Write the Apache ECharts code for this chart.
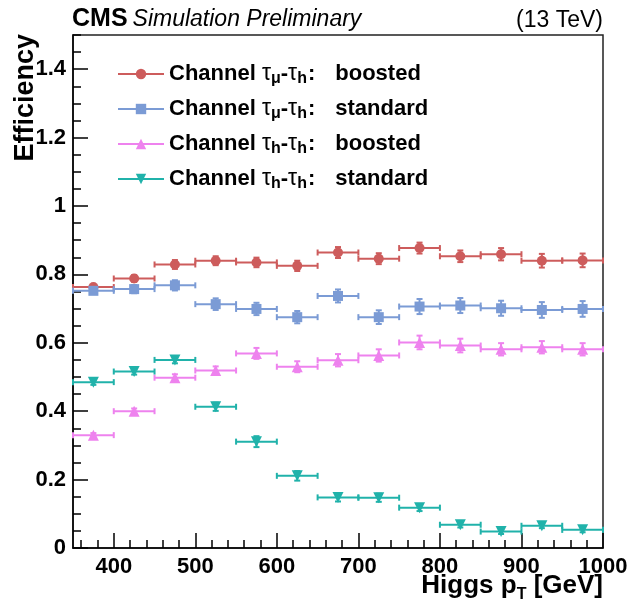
<!DOCTYPE html>
<html>
<head>
<meta charset="utf-8">
<script src="https://cdn.jsdelivr.net/npm/echarts@6/dist/echarts.min.js"></script>
<style>
html, body { margin: 0; padding: 0; background: #fff; }
#chart { width: 628px; height: 608px; }
</style>
</head>
<body>
<div id="chart"></div>
<script>
//---------------------------Data---------------------------
//bins in Higgs pT [GeV]
let binCenters = [375, 425, 475, 525, 575, 625, 675, 725, 775, 825, 875, 925, 975];
let binHalfWidth = 25;

//efficiencies + vertical errors
let effMuBoosted = [0.763, 0.788, 0.829, 0.840, 0.835, 0.825, 0.864, 0.846, 0.877, 0.853, 0.859, 0.840, 0.841];
let errMuBoosted = [0.006, 0.010, 0.013, 0.013, 0.014, 0.015, 0.016, 0.016, 0.016, 0.017, 0.018, 0.020, 0.020];
let effMuStandard = [0.752, 0.757, 0.768, 0.713, 0.699, 0.675, 0.737, 0.675, 0.706, 0.709, 0.701, 0.696, 0.699];
let errMuStandard = [0.008, 0.012, 0.015, 0.017, 0.018, 0.018, 0.019, 0.020, 0.022, 0.022, 0.022, 0.023, 0.023];
let effHBoosted = [0.330, 0.400, 0.498, 0.519, 0.569, 0.530, 0.549, 0.563, 0.601, 0.592, 0.581, 0.587, 0.581];
let errHBoosted = [0.006, 0.008, 0.010, 0.012, 0.016, 0.016, 0.018, 0.018, 0.020, 0.020, 0.018, 0.018, 0.018];
let effHStandard = [0.485, 0.516, 0.550, 0.413, 0.311, 0.211, 0.148, 0.147, 0.118, 0.068, 0.048, 0.065, 0.053];
let errHStandard = [0.008, 0.009, 0.010, 0.012, 0.016, 0.014, 0.012, 0.012, 0.010, 0.008, 0.007, 0.007, 0.007];

//axis ticks
let xMajorTicks = [400, 500, 600, 700, 800, 900, 1000];
let xMinorTicks = [360, 380, 420, 440, 460, 480, 520, 540, 560, 580, 620, 640, 660, 680,
    720, 740, 760, 780, 820, 840, 860, 880, 920, 940, 960, 980];
let yMajorTicks = [0, 0.2, 0.4, 0.6, 0.8, 1.0, 1.2, 1.4];
let yMinorTicks = [0.05, 0.1, 0.15, 0.25, 0.3, 0.35, 0.45, 0.5, 0.55, 0.65, 0.7, 0.75, 0.85, 0.9, 0.95,
    1.05, 1.1, 1.15, 1.25, 1.3, 1.35, 1.45, 1.5];

//---------------------------UI---------------------------
let chart = echarts.init(document.getElementById('chart'));
let font = 'Liberation Sans';

let channels = [
    {name: 'mu_boosted', eff: effMuBoosted, err: errMuBoosted, color: '#cd5c5c', symbol: 'circle', size: 10,
        label: 'Channel {tau|τ}{sub|μ}-{tau|τ}{sub|h}{col|:}boosted'},
    {name: 'mu_standard', eff: effMuStandard, err: errMuStandard, color: '#7b9bd5', symbol: 'rect', size: 10,
        label: 'Channel {tau|τ}{sub|μ}-{tau|τ}{sub|h}{col|:}standard'},
    {name: 'h_boosted', eff: effHBoosted, err: errHBoosted, color: '#ee82ee', symbol: 'triangle', size: 11,
        label: 'Channel {tau|τ}{sub|h}-{tau|τ}{sub|h}{col|:}boosted'},
    {name: 'h_standard', eff: effHStandard, err: errHStandard, color: '#20b2aa', symbol: 'path://M0,0 L10,0 L5,9 Z', size: 11,
        label: 'Channel {tau|τ}{sub|h}-{tau|τ}{sub|h}{col|:}standard'}
];

//error bars: bin width horizontally, stat error vertically
function errorBars(color) {
    return function (params, api) {
        let x = api.value(0);
        let y = api.value(1);
        let e = api.value(2);
        let l = api.coord([x - binHalfWidth, y]);
        let r = api.coord([x + binHalfWidth, y]);
        let t = api.coord([x, y + e]);
        let b = api.coord([x, y - e]);
        let style = {stroke: color, lineWidth: 2};
        let cap = 3;
        return {
            type: 'group',
            children: [
                {type: 'line', shape: {x1: l[0], y1: l[1], x2: r[0], y2: r[1]}, style: style},
                {type: 'line', shape: {x1: l[0], y1: l[1] - cap, x2: l[0], y2: l[1] + cap}, style: style},
                {type: 'line', shape: {x1: r[0], y1: r[1] - cap, x2: r[0], y2: r[1] + cap}, style: style},
                {type: 'line', shape: {x1: t[0], y1: t[1], x2: b[0], y2: b[1]}, style: style},
                {type: 'line', shape: {x1: t[0] - cap, y1: t[1], x2: t[0] + cap, y2: t[1]}, style: style},
                {type: 'line', shape: {x1: b[0] - cap, y1: b[1], x2: b[0] + cap, y2: b[1]}, style: style}
            ]
        };
    };
}

let series = [];
for (let i = 0; i < channels.length; i++) {
    let c = channels[i];
    series.push({
        type: 'custom',
        xAxisIndex: 0,
        yAxisIndex: 0,
        renderItem: errorBars(c.color),
        data: binCenters.map((x, j) => [x, c.eff[j], c.err[j]]),
        encode: {x: 0, y: 1},
        silent: true,
        z: 2
    });
}
for (let i = 0; i < channels.length; i++) {
    let c = channels[i];
    series.push({
        name: c.name,
        type: 'line',
        xAxisIndex: 0,
        yAxisIndex: 0,
        data: binCenters.map((x, j) => [x, c.eff[j]]),
        symbol: c.symbol,
        symbolSize: c.size,
        showAllSymbol: true,
        itemStyle: {color: c.color},
        lineStyle: {color: c.color, opacity: 0},
        z: 3
    });
}

let labelOf = {};
channels.forEach(c => labelOf[c.name] = c.label);

let option = {
    animation: false,
    backgroundColor: '#fff',
    title: [
        {
            text: '{b|CMS} {i|Simulation Preliminary}',
            left: 72, top: 7, padding: 0,
            textStyle: {
                rich: {
                    b: {fontFamily: font, fontWeight: 'bold', fontSize: 25, color: '#000'},
                    i: {fontFamily: font, fontStyle: 'italic', fontWeight: 'normal', fontSize: 23, color: '#000'}
                }
            }
        },
        {
            text: '(13 TeV)',
            right: 25, top: 9, padding: 0,
            textStyle: {fontFamily: font, fontWeight: 'normal', fontSize: 23, color: '#000'}
        }
    ],
    legend: {
        orient: 'vertical',
        left: 112, top: 54,
        itemWidth: 46, itemHeight: 13,
        itemGap: 7,
        data: channels.map(c => c.name),
        lineStyle: {opacity: 1, width: 2},
        formatter: function (name) { return labelOf[name]; },
        textStyle: {
            fontFamily: font, fontWeight: 'bold', fontSize: 22, color: '#000', lineHeight: 26,
            rich: {
                tau: {fontFamily: font, fontWeight: 'normal', fontSize: 23, color: '#000', lineHeight: 26},
                sub: {fontFamily: font, fontWeight: 'bold', fontSize: 16, color: '#000', lineHeight: 26, verticalAlign: 'bottom', padding: [12, 0, 0, 0]},
                col: {fontFamily: font, fontWeight: 'bold', fontSize: 22, color: '#000', lineHeight: 26, padding: [0, 20, 0, 1]}
            }
        }
    },
    grid: {left: 73, right: 25, top: 35, bottom: 60, outerBoundsMode: 'none', containLabel: false,
        show: true, borderColor: '#222', borderWidth: 1.5, backgroundColor: 'transparent'},
    xAxis: [
        {
            type: 'value', min: 350, max: 1000, position: 'bottom',
            axisLine: {show: true, onZero: false, lineStyle: {color: '#000', width: 1.5}},
            axisTick: {show: true, inside: true, length: 15, customValues: xMajorTicks, lineStyle: {color: '#000', width: 1.5}},
            axisLabel: {customValues: xMajorTicks, margin: 8, fontFamily: font, fontWeight: 'bold', fontSize: 22, color: '#000',
                showMinLabel: true, showMaxLabel: true, hideOverlap: false, formatter: v => String(v)},
            splitLine: {show: false}
        },
        {
            type: 'value', min: 350, max: 1000, position: 'bottom',
            axisLine: {show: false},
            axisTick: {show: true, inside: true, length: 8, customValues: xMinorTicks, lineStyle: {color: '#000', width: 1.5}},
            axisLabel: {show: false},
            splitLine: {show: false}
        }
    ],
    yAxis: [
        {
            type: 'value', min: 0, max: 1.5, position: 'left',
            axisLine: {show: true, onZero: false, lineStyle: {color: '#000', width: 1.5}},
            axisTick: {show: true, inside: true, length: 15, customValues: yMajorTicks, lineStyle: {color: '#000', width: 1.5}},
            axisLabel: {customValues: yMajorTicks, margin: 7, fontFamily: font, fontWeight: 'bold', fontSize: 22, color: '#000'},
            splitLine: {show: false}
        },
        {
            type: 'value', min: 0, max: 1.5, position: 'left',
            axisLine: {show: false},
            axisTick: {show: true, inside: true, length: 8, customValues: yMinorTicks, lineStyle: {color: '#000', width: 1.5}},
            axisLabel: {show: false},
            splitLine: {show: false}
        }
    ],
    graphic: [
        {
            type: 'text', x: 26, y: 34, rotation: Math.PI / 2,
            style: {text: 'Efficiency', align: 'right', verticalAlign: 'middle', fontFamily: font, fontWeight: 'bold', fontSize: 27, fill: '#000'}
        },
        {
            type: 'text', x: 603, y: 586,
            style: {
                text: 'Higgs p{sub|T} [GeV]', align: 'right', verticalAlign: 'middle',
                fontFamily: font, fontWeight: 'bold', fontSize: 26, fill: '#000',
                rich: {sub: {fontFamily: font, fontWeight: 'bold', fontSize: 16, fill: '#000', padding: [18, 0, 0, 0]}}
            }
        }
    ],
    series: series
};

chart.setOption(option);
</script>
</body>
</html>
